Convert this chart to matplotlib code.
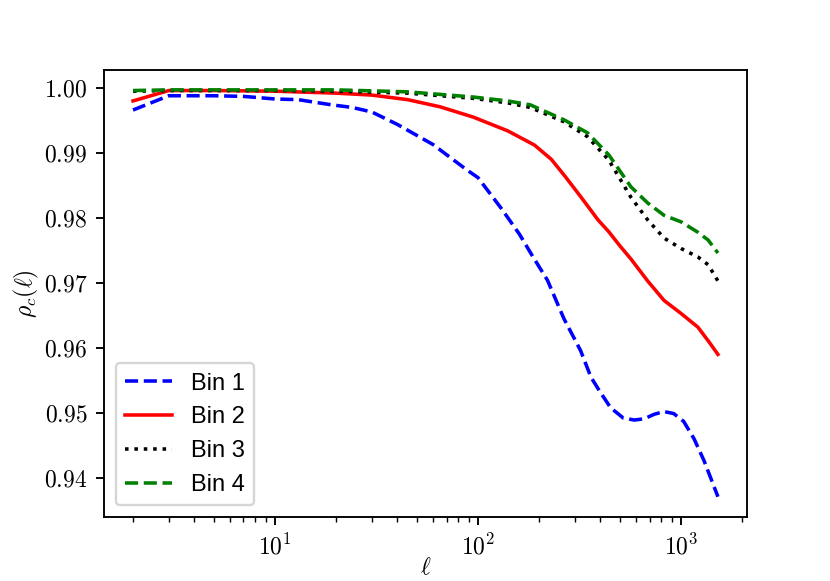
#Cross-correlation coefficient rho_c(ell) for four bins

import matplotlib
matplotlib.use('Agg')
import matplotlib.pyplot as plt

plt.rcParams['font.family'] = 'serif'
plt.rcParams['font.serif'] = ['cmr10']
plt.rcParams['mathtext.fontset'] = 'cm'
plt.rcParams['axes.formatter.use_mathtext'] = True

#Values
ell_1 = [2, 3, 5, 7, 10, 13, 19, 24, 30, 40, 60, 88, 100, 130, 160, 185, 220, 265,
         320, 360, 400, 450, 520, 590, 660, 740, 825, 920, 1030, 1160, 1300, 1520]
rho_1 = [0.9966, 0.9988, 0.9988, 0.9987, 0.9983, 0.9982, 0.9974, 0.9970, 0.9963,
         0.9944, 0.9913, 0.9874, 0.9862, 0.9815, 0.9775, 0.9742, 0.9704, 0.9645,
         0.9596, 0.9555, 0.9532, 0.9508, 0.9492, 0.9489, 0.9491, 0.9498, 0.9502,
         0.9499, 0.9487, 0.9460, 0.9426, 0.9371]

ell_2 = [2, 3, 5, 10, 20, 30, 45, 65, 95, 140, 190, 230, 270, 320, 390, 440, 500,
         566, 685, 825, 1000, 1210, 1360, 1520]
rho_2 = [0.9980, 0.9996, 0.9996, 0.9995, 0.9992, 0.9989, 0.9982, 0.9971, 0.9955,
         0.9934, 0.9912, 0.9890, 0.9863, 0.9833, 0.9797, 0.9779, 0.9757, 0.9737,
         0.9703, 0.9673, 0.9653, 0.9632, 0.9611, 0.9590]

ell_3 = [2, 3, 10, 20, 45, 95, 140, 181, 265, 346, 441, 566, 685, 825, 1000, 1210,
         1360, 1520]
rho_3 = [0.9995, 0.9996, 0.9996, 0.9995, 0.9992, 0.9984, 0.9977, 0.9970, 0.9948,
         0.9925, 0.9889, 0.9832, 0.9797, 0.9769, 0.9753, 0.9740, 0.9728, 0.9703]

ell_4 = [2, 3, 10, 20, 45, 95, 140, 181, 265, 346, 441, 566, 685, 825, 1000, 1210,
         1360, 1520]
rho_4 = [0.9996, 0.9997, 0.9997, 0.9997, 0.9994, 0.9986, 0.9980, 0.9974, 0.9951,
         0.9931, 0.9897, 0.9848, 0.9823, 0.9804, 0.9794, 0.9778, 0.9766, 0.9746]

dpi = 170
fig = plt.figure(figsize=(830.2/dpi, 581.2/dpi), dpi=dpi)
ax = fig.add_subplot(111)
ax.plot(ell_1, rho_1, 'b--', lw=1.5, label='Bin 1')
ax.plot(ell_2, rho_2, 'r-', lw=1.5, label='Bin 2')
ax.plot(ell_3, rho_3, 'k:', lw=1.5, label='Bin 3')
ax.plot(ell_4, rho_4, 'g--', lw=1.5, label='Bin 4')
ax.set_xscale('log')
ax.set_xlabel(r'$\ell$', labelpad=-1)
ax.set_ylabel(r'$\rho_c(\ell)$', labelpad=1)
ax.legend(loc='lower left', prop={'family': 'Liberation Sans'})

fig.savefig('out.png', dpi=dpi)
